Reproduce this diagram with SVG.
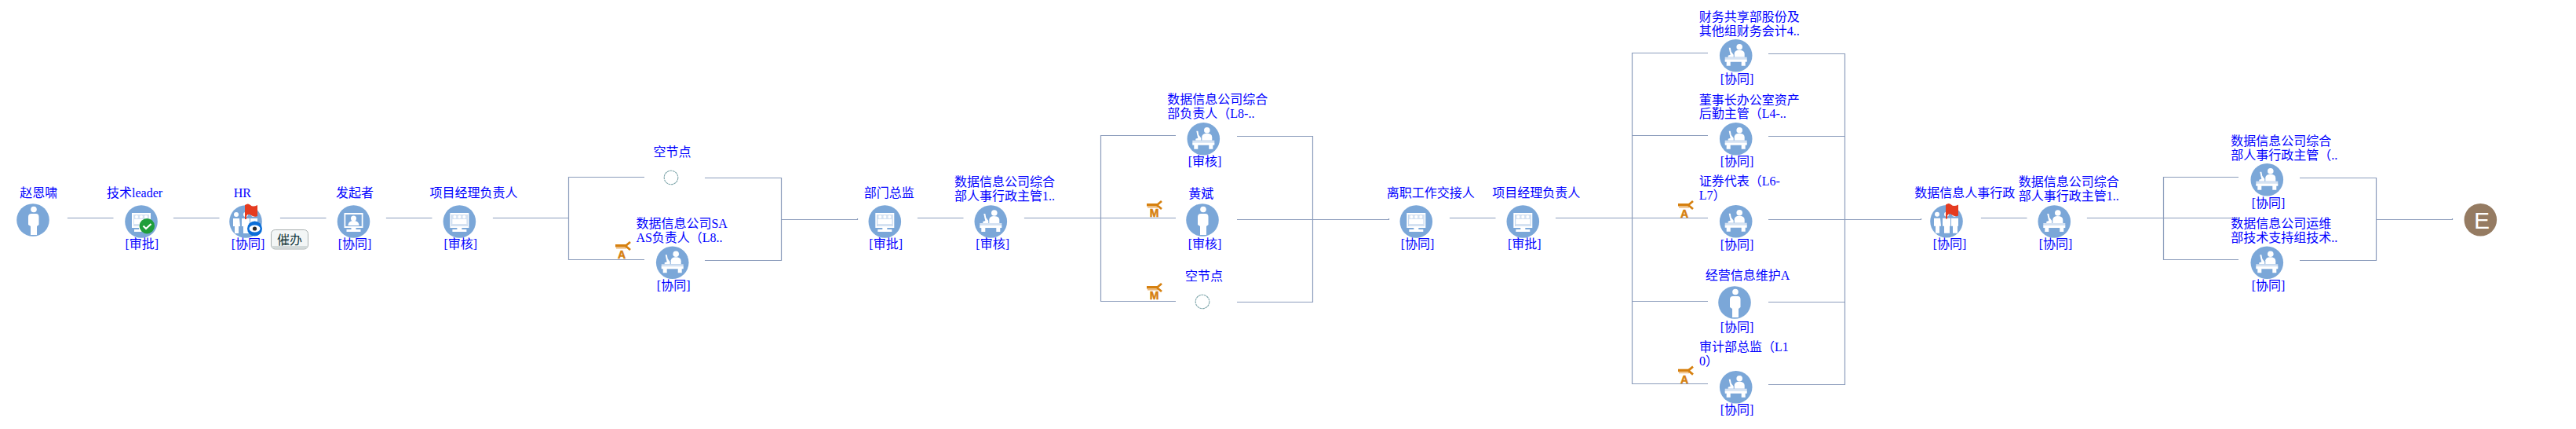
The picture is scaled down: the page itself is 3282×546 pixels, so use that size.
<svg xmlns="http://www.w3.org/2000/svg" width="3282" height="546" viewBox="0 0 3282 546">
<style>
text{font-family:"Liberation Serif","Noto Sans CJK SC",serif;font-size:16px;fill:#0000ff}
.ln{fill:none;stroke:#8c9dbc;stroke-width:1.2}
.disc{fill:#7ba7d8}
.w{fill:#fff}
.pale{fill:#d5e2f2}
.ring{fill:#fff;stroke:#7fa6ab;stroke-width:1.1;stroke-dasharray:3 .6}
.org{fill:#d6800f}
.end{font-family:"Liberation Sans",sans-serif;font-size:30px;fill:#fff;text-anchor:middle}
.btn{font-family:"Noto Sans CJK SC",sans-serif;fill:#17393c}
.let{font-family:"Liberation Sans",sans-serif;font-weight:bold;font-size:14px;fill:#d6800f;stroke:#d6800f;stroke-width:.5;text-anchor:middle}
</style>
<defs>
<g id="person"><circle r="20.8" class="disc"/><circle cx="1" cy="-13.5" r="3.8" class="w"/><path class="w" d="M-6-4Q-6-8-2-8H4Q7.500-8 7.500-4V6L5 8V19H-3V8L-6 6Z"/></g>
<g id="group"><circle r="20.8" class="disc"/><g class="w"><circle cx="-12" cy="-9" r="3"/><path d="M-16-4H-8L-7 6H-9V15H-14V6H-16Z"/><circle cx="0" cy="-9" r="3"/><path d="M-5-4H5L5 6H4V15H-3V6H-5Z"/><circle cx="10" cy="-9" r="3"/><path d="M6-4H15V6H14V15H8V6H6Z"/></g></g>
<g id="monitor"><circle r="20.8" class="disc"/><path class="w" d="M-12-11H12V8H-12ZM-10-9V6H10V-9Z" fill-rule="evenodd"/><rect x="-10" y="-9" width="20" height="15" class="pale"/><g class="w"><circle cx="-6" cy="-6" r="2"/><circle cx="0" cy="-6" r="2"/><circle cx="6" cy="-6" r="2"/><path d="M-9-3H-3V3H-9ZM-3-3H3V3H-3ZM3-3H9V3H3Z"/></g><rect x="-3" y="8" width="6" height="2" class="w"/><rect x="-9" y="10" width="18" height="3" class="w"/></g>
<g id="monitor1"><circle r="20.8" class="disc"/><path class="w" d="M-12-11H12V8H-12ZM-10-9V6H10V-9Z" fill-rule="evenodd"/><rect x="-10" y="-9" width="20" height="15" class="disc"/><circle cx="0" cy="-4" r="3.500" class="w"/><path class="w" d="M-7 4Q-6-1 0-1T7 4V5H-7Z"/><rect x="-3" y="8" width="6" height="2" class="w"/><rect x="-9" y="10" width="18" height="3" class="w"/></g>
<g id="desk"><circle r="20.8" class="disc"/><circle cx="4.500" cy="-11" r="3.800" class="w"/><path class="w" d="M-2 2V-3Q-1-7 4-7Q11-7 11-2V2Z"/><path class="w" d="M-9-10L-7-10L-6-5L-3-1L-3 2H-10V0L-7-1L-8-5Z"/><rect x="-14" y="2" width="28" height="4" class="pale"/><path class="w" d="M-14 5H14V8H12V13H7V8H-7V13H-12V8H-14Z"/></g>
<g id="flag"><path fill="#e53b20" d="M0 1Q4-2 7 1T16 1V15Q12 17 8 14T2 15V19H0Z"/></g>
<g id="ic"><rect x="0" y="4" width="15" height="3.500" class="org"/><rect x="1" y="8" width="13" height="1.500" fill="#eeb877"/><path d="M13 6L19 1M13 6L19 11" stroke="#d6800f" stroke-width="2.800" fill="none"/></g>
</defs>
<g id="connectors" class="ln">
<path d="M86.500 277v.5h58M221.500 277v.5h58M357.500 277v.5h58M492.500 277v.5h58"/>
<path d="M628.500 277v.5h96M821 225.500H724.500V330.500H821M898 226.500H995.500V331.500H898M995.500 279.500H1092.500V278"/>
<path d="M1169.500 277v.5h58M1305.500 277v.5H1498M1498 172.500H1402.500V383.500H1498M1576 173.500H1672.500V384.500H1576M1576 279.500H1769.500V278"/>
<path d="M1847.500 277v.5h58M1982.500 277v.5H2176M2176 67.500H2079.500V488.500H2176M2079.500 172.500H2176M2079.500 383.500H2176M2253 68.500H2350.500V489.500H2253M2253 173.500H2350.500M2253 384.500H2350.500M2253 279.500H2447.500V278"/>
<path d="M2524.500 277v.5h58M2659.500 277v.5H2852M2852 225.500H2756.500V330.500H2852M2930 226.500H3027.500V331.500H2930M3027.500 279.500H3124.500V278"/>
</g>
<g id="n-start"><use href="#person" x="42" y="280"/><text x="25.300" y="251">赵恩啸</text></g>
<g id="n-leader"><use href="#monitor" x="180" y="282"/><circle cx="187.300" cy="287.700" r="9.700" fill="#1f9e3a"/><path d="M182.500 287.500L186 291L192.500 285" fill="none" stroke="#fff" stroke-width="2.200"/><text x="136" y="251">技术leader</text><text x="159.500" y="316">[审批]</text></g>
<g id="n-hr"><use href="#group" x="313" y="282"/><use href="#flag" x="312" y="260"/><circle cx="324.500" cy="291" r="9.500" fill="#0b6ed8"/><ellipse cx="324.500" cy="291" rx="7" ry="4.500" fill="#fff"/><circle cx="324.500" cy="291" r="2.600" fill="#2a2a2a"/><text x="297.700" y="251">HR</text><text x="294.700" y="316">[协同]</text></g>
<g id="btn-urge"><rect x="345.500" y="292.500" width="47" height="24.500" rx="5" fill="#f3f6f6" stroke="#a9b0b0"/><rect x="347" y="313" width="44" height="3" fill="#d3dada"/><text class="btn" x="353" y="310.500">催办</text></g>
<g id="n-init"><use href="#monitor1" x="450.500" y="282"/><text x="428" y="251">发起者</text><text x="430.700" y="316">[协同]</text></g>
<g id="n-pm1"><use href="#monitor" x="585.400" y="282"/><text x="547.500" y="251">项目经理负责人</text><text x="565.500" y="316">[审核]</text></g>
<g id="n-empty1"><circle class="ring" cx="855" cy="226" r="8.800"/><text x="832.500" y="199">空节点</text></g>
<g id="n-saas"><use href="#desk" x="856.700" y="334.300"/><text x="810.400" y="290">数据信息公司SA</text><text x="810.400" y="308">AS负责人（L8..</text><text x="836.800" y="369.300">[协同]</text><g transform="translate(784 307)"><use href="#ic"/><text class="let" x="8" y="22">A</text></g></g>
<g id="n-dir"><use href="#monitor" x="1127.300" y="282"/><text x="1100.700" y="251">部门总监</text><text x="1107.300" y="316">[审批]</text></g>
<g id="n-hr2"><use href="#desk" x="1262.300" y="282"/><text x="1216" y="237">数据信息公司综合</text><text x="1216" y="255">部人事行政主管1..</text><text x="1243.300" y="316">[审核]</text></g>
<g id="n-l8"><use href="#desk" x="1533.300" y="176.700"/><text x="1487.300" y="132">数据信息公司综合</text><text x="1487.300" y="150">部负责人（L8-..</text><text x="1513.700" y="211">[审核]</text></g>
<g id="n-hb"><use href="#person" x="1532" y="280"/><text x="1514.300" y="251.500">黄斌</text><text x="1513.700" y="316">[审核]</text><g transform="translate(1461 255)"><use href="#ic"/><text class="let" x="9.500" y="21">M</text></g></g>
<g id="n-empty2"><circle class="ring" cx="1532" cy="384" r="8.800"/><text x="1510" y="356.500">空节点</text><g transform="translate(1461 360)"><use href="#ic"/><text class="let" x="9.500" y="21">M</text></g></g>
<g id="n-handover"><use href="#monitor" x="1804.300" y="282"/><text x="1766.700" y="251">离职工作交接人</text><text x="1784.700" y="316">[协同]</text></g>
<g id="n-pm2"><use href="#monitor" x="1940.300" y="282"/><text x="1901.300" y="251">项目经理负责人</text><text x="1921" y="316">[审批]</text></g>
<g id="n-fin"><use href="#desk" x="2211.700" y="70.700"/><text x="2164.700" y="27">财务共享部股份及</text><text x="2164.700" y="44.500">其他组财务会计4..</text><text x="2191.700" y="106">[协同]</text></g>
<g id="n-asset"><use href="#desk" x="2211.700" y="176.700"/><text x="2164.700" y="132.500">董事长办公室资产</text><text x="2164.700" y="150">后勤主管（L4-..</text><text x="2191.700" y="211.300">[协同]</text></g>
<g id="n-sec"><use href="#desk" x="2211.700" y="281.700"/><text x="2164.700" y="236">证券代表（L6-</text><text x="2164.700" y="254">L7）</text><text x="2191.700" y="317.300">[协同]</text><g transform="translate(2138 255)"><use href="#ic"/><text class="let" x="8" y="22">A</text></g></g>
<g id="n-biz"><use href="#person" x="2210" y="385"/><text x="2172.700" y="356">经营信息维护A</text><text x="2191.700" y="422.300">[协同]</text></g>
<g id="n-audit"><use href="#desk" x="2211.700" y="492.700"/><text x="2165" y="447.300">审计部总监（L1</text><text x="2165" y="465">0）</text><text x="2191.700" y="527.300">[协同]</text><g transform="translate(2138 465.700)"><use href="#ic"/><text class="let" x="8" y="22">A</text></g></g>
<g id="n-hr3"><use href="#group" x="2480" y="281.700"/><use href="#flag" x="2479" y="259.500"/><text x="2439.300" y="251">数据信息人事行政</text><text x="2462.700" y="316">[协同]</text></g>
<g id="n-hr4"><use href="#desk" x="2617.300" y="282"/><text x="2571.700" y="237.300">数据信息公司综合</text><text x="2571.700" y="255">部人事行政主管1..</text><text x="2597.700" y="316">[协同]</text></g>
<g id="n-hr5"><use href="#desk" x="2888.300" y="228.700"/><text x="2842.300" y="185">数据信息公司综合</text><text x="2842.300" y="202.700">部人事行政主管（..</text><text x="2868.700" y="264.300">[协同]</text></g>
<g id="n-ops"><use href="#desk" x="2888.300" y="334.300"/><text x="2842.300" y="290">数据信息公司运维</text><text x="2842.300" y="307.700">部技术支持组技术..</text><text x="2868.700" y="369">[协同]</text></g>
<g id="n-end"><circle cx="3160.300" cy="279.700" r="20.800" fill="#957b62"/><text class="end" x="3162" y="290.500">E</text></g>
</svg>
